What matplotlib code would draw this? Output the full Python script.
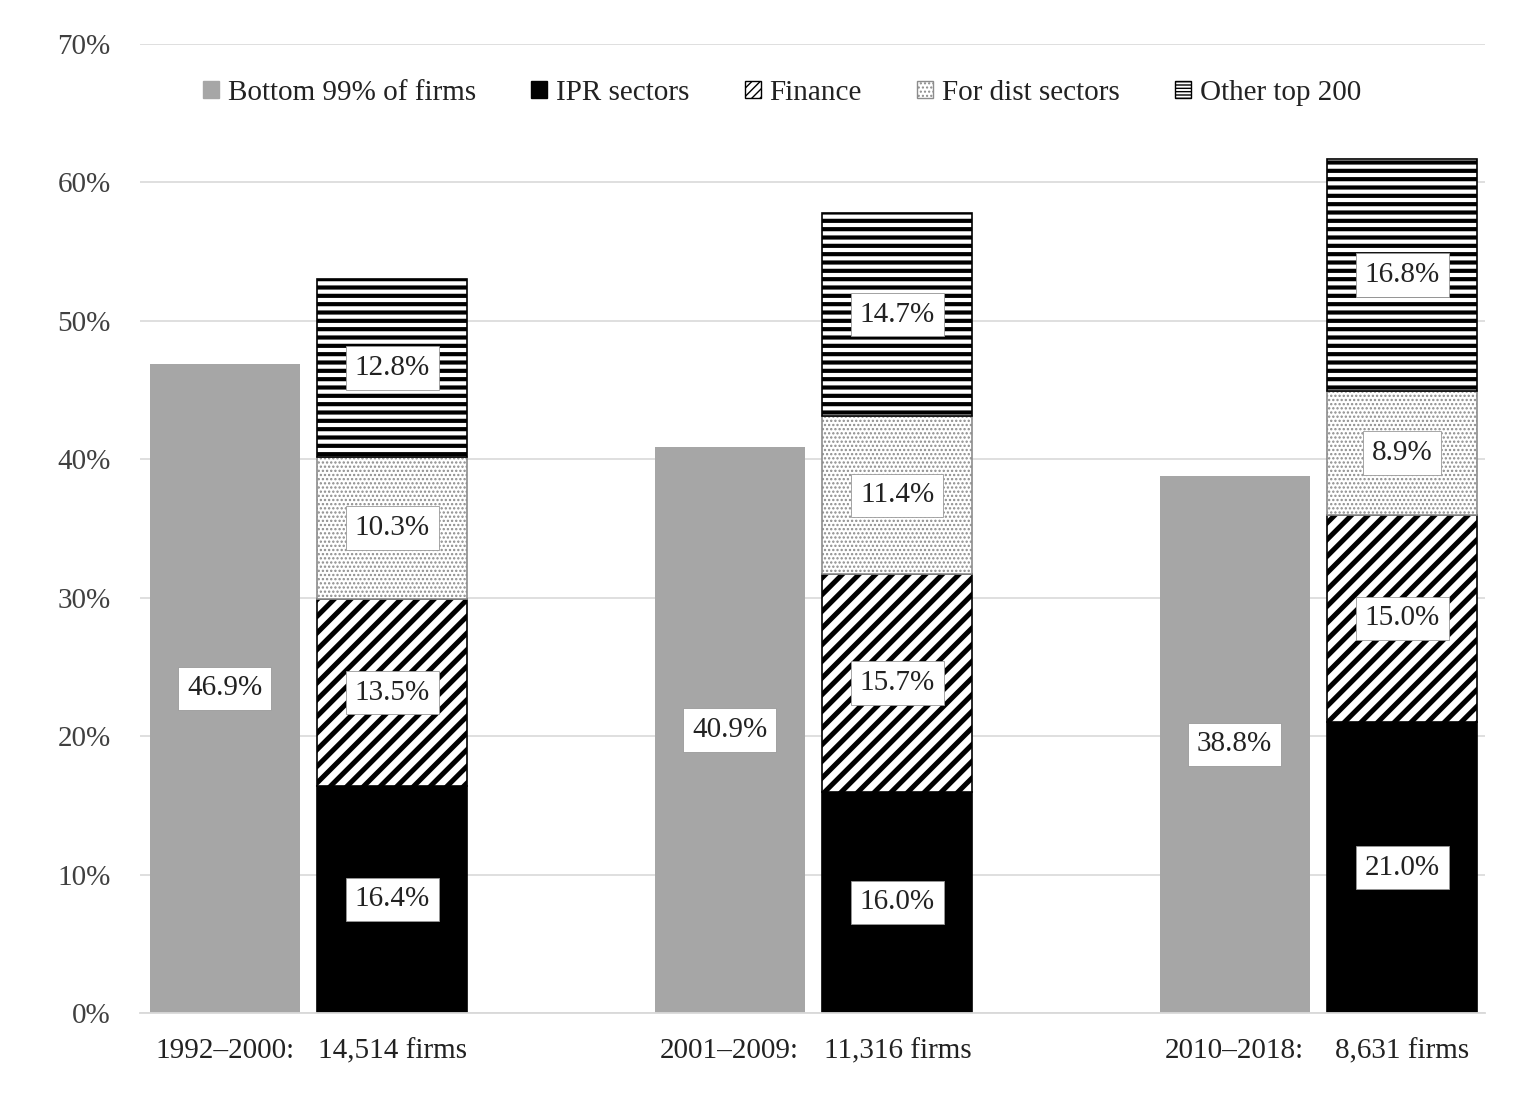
import matplotlib
matplotlib.use('Agg')
import matplotlib.pyplot as plt
import matplotlib.transforms as mtransforms
from matplotlib.patches import Patch
import numpy as np

plt.rcParams['font.family'] = ['Liberation Serif', 'DejaVu Serif']

# Data
periods = ['1992–2000:', '2001–2009:', '2010–2018:']
firm_counts = ['14,514 firms', '11,316 firms', '8,631 firms']
bottom99 = [46.9, 40.9, 38.8]
ipr = [16.4, 16.0, 21.0]
finance = [13.5, 15.7, 15.0]
fordist = [10.3, 11.4, 8.9]
other200 = [12.8, 14.7, 16.8]
yticks = [0, 10, 20, 30, 40, 50, 60, 70]

W, H = 1538, 1109
fig = plt.figure(figsize=(W / 100, H / 100), dpi=100)
ax = fig.add_axes([140 / W, 1 - 1013 / H, (1485 - 140) / W, (1013 - 44) / H])

x = np.arange(len(periods))
bw = 0.297
off = 0.166
gray = '#a6a6a6'
fs = 21

ax.bar(x - off, bottom99, bw, color=gray, zorder=2)

def label(xx, yy, v):
    ax.text(xx, yy, f'{v:.1f}%', ha='center', va='center', fontsize=fs, color='#222222', zorder=5,
            bbox=dict(boxstyle='square,pad=0.3', fc='white', ec='#999999', lw=0.6))

for i in range(len(periods)):
    label(x[i] - off, bottom99[i] / 2, bottom99[i])

segs = [
    (ipr, dict(color='black', edgecolor='black'), None, 1.0),
    (finance, dict(color='white', edgecolor='black'), '//', 3.6),
    (fordist, dict(color='white', edgecolor='#8c8c8c'), '....', 1.1),
    (other200, dict(color='white', edgecolor='black'), '--', 3.0),
]
base = np.zeros(len(periods))
for vals, style, hatch, hlw in segs:
    bars = ax.bar(x + off, vals, bw, bottom=base, hatch=hatch, linewidth=1.2, zorder=2, **style)
    for p in bars:
        if hasattr(p, 'set_hatch_linewidth'):
            p.set_hatch_linewidth(hlw)
    for i, v in enumerate(vals):
        label(x[i] + off, base[i] + v / 2, v)
    base = base + np.array(vals)

ax.set_xlim(-0.334, 2.33)
ax.set_ylim(0, 70)
ax.set_yticks(yticks)
ax.set_yticklabels([f'{t}%' for t in yticks], fontsize=fs, color='#404040')
ax.set_xticks([])
ax.tick_params(axis='y', length=0, pad=21)
ax.grid(axis='y', color='#dcdcdc', lw=1.3, zorder=0)
for s in ['top', 'right', 'left']:
    ax.spines[s].set_visible(False)
ax.spines['bottom'].set_color('#d9d9d9')
ax.spines['bottom'].set_linewidth(1.3)

trans = mtransforms.blended_transform_factory(ax.transData, fig.transFigure)
for i in range(len(periods)):
    ax.text(x[i] - off, 1 - 1051 / H, periods[i], transform=trans, ha='center', va='center',
            fontsize=fs, color='#222222')
    ax.text(x[i] + off, 1 - 1051 / H, firm_counts[i], transform=trans, ha='center', va='center',
            fontsize=fs, color='#222222')

handles = [
    Patch(facecolor=gray, edgecolor=gray, label='Bottom 99% of firms'),
    Patch(facecolor='black', edgecolor='black', label='IPR sectors'),
    Patch(facecolor='white', edgecolor='black', hatch='////', label='Finance'),
    Patch(facecolor='white', edgecolor='#8c8c8c', hatch='....', label='For dist sectors'),
    Patch(facecolor='white', edgecolor='black', hatch='-----', label='Other top 200'),
]
fig.legend(handles=handles, loc='center', bbox_to_anchor=(782 / W, 1 - 93 / H), ncol=5,
           frameon=False, fontsize=fs, handlelength=0.55, handleheight=0.55, handletextpad=0.3,
           columnspacing=1.9, labelcolor='#222222')

fig.savefig('out.png', dpi=100, facecolor='white')
